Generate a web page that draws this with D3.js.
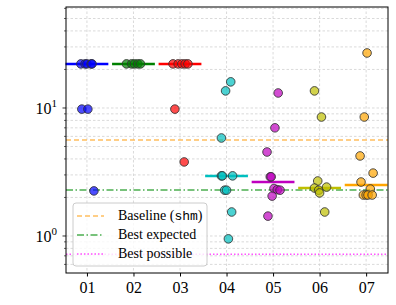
<html lang="en">
<head>
  <meta charset="utf-8"/>
  <script src="https://d3js.org/d3.v7.min.js"></script>
  <style>
  body { margin:0; background:white; }
  .grid line { stroke:#d0d0d0; stroke-width:0.8px; stroke-dasharray:2.5,2; }
  </style>
</head>
<body>
  <svg id="chart" width="396" height="305" style="font-family:'Liberation Serif','DejaVu Serif',serif"></svg>
  <script>
    // categories, colours and median per category
    const cats = ["01","02","03","04","05","06","07"];
    const colors = ["#0000ff","#008000","#ff0000","#00bfbf","#bf00bf","#bfbf00","#ffa500"];
    const medians = [22.1, 22.1, 22.1, 2.94, 2.64, 2.37, 2.50];

    // per-category values and x jitter (category units)
    const vals = [
      [22.1, 22.1, 22.1, 22.1, 22.1, 9.8, 9.8, 2.25],
      [22.1, 22.1, 22.1, 22.1, 22.1],
      [22.1, 22.1, 22.1, 22.1, 22.1, 9.8, 3.79],
      [16, 13.6, 5.83, 2.95, 2.95, 2.95, 2.28, 2.28, 1.54, 0.95],
      [13.1, 7.0, 4.53, 2.9, 2.9, 2.35, 2.3, 2.28, 2.05, 1.43],
      [13.6, 8.5, 2.69, 2.37, 2.28, 2.17, 2.41, 1.54],
      [26.9, 8.5, 4.22, 3.1, 2.64, 2.33, 2.09, 2.09, 2.09, 2.09]
    ];
    const jitter = [
      [-0.13, -0.04, 0, 0.09, 0.11, -0.11, 0.02, 0.15],
      [-0.15, -0.04, 0.02, 0.09, 0.15],
      [-0.15, -0.04, 0.04, 0.11, 0.17, -0.11, 0.09],
      [0.09, -0.02, -0.11, -0.11, -0.09, 0.13, -0.04, 0, 0.11, 0.04],
      [0.11, 0.04, -0.13, -0.06, -0.04, 0.02, 0.09, 0.15, -0.02, -0.11],
      [-0.11, 0.04, -0.04, -0.11, -0.02, 0, 0.15, 0.11],
      [0.02, -0.04, -0.13, 0.15, -0.11, 0.09, -0.06, 0, 0.04, 0.13]
    ];

    // reference lines
    const refNames = ["Baseline", "Best expected", "Best possible"];
    const refValues = [5.62, 2.29, 0.72];
    const refColors = ["#ffbf5f", "#4caf50", "#ff55ff"];
    const refDash = ["5,3", "7,2.5,1.5,2.5", "1.5,2"];

    const yMajor = [1, 10];
    const yMinor = [0.6,0.7,0.8,0.9,2,3,4,5,6,7,8,9,20,30,40,50,60];

    const svg = d3.select("#chart");
    const L = 66, R = 388, T = 7, B = 273;

    const x = d3.scaleLinear().domain([0.55, 7.47]).range([L, R]);
    const y = d3.scaleLog().domain([0.514, 61.5]).range([B, T]);

    // grid
    const grid = svg.append("g").attr("class", "grid");
    grid.selectAll("line.gy").data(yMajor.concat(yMinor)).join("line")
      .attr("x1", L).attr("x2", R).attr("y1", d => y(d)).attr("y2", d => y(d));
    grid.selectAll("line.gx").data(cats).join("line")
      .attr("x1", (d, i) => x(i + 1)).attr("x2", (d, i) => x(i + 1)).attr("y1", T).attr("y2", B);

    // reference lines
    refValues.forEach((v, i) => {
      svg.append("line").attr("x1", L).attr("x2", R).attr("y1", y(v)).attr("y2", y(v))
        .attr("stroke", refColors[i]).attr("stroke-width", 1.5).attr("stroke-dasharray", refDash[i]);
    });

    // median lines
    svg.selectAll("line.med").data(medians).join("line")
      .attr("x1", (d, i) => x(i + 1 - 0.46)).attr("x2", (d, i) => x(i + 1 + 0.46))
      .attr("y1", d => y(d)).attr("y2", d => y(d))
      .attr("stroke", (d, i) => colors[i]).attr("stroke-width", 2.5);

    // points
    const pts = [];
    vals.forEach((arr, c) => arr.forEach((v, k) => pts.push({c: c, v: v, j: jitter[c][k]})));
    svg.selectAll("circle.pt").data(pts).join("circle")
      .attr("cx", d => x(d.c + 1 + d.j)).attr("cy", d => y(d.v)).attr("r", 4.3)
      .attr("fill", d => colors[d.c]).attr("fill-opacity", 0.7)
      .attr("stroke", "#333").attr("stroke-opacity", 0.85).attr("stroke-width", 1);

    // frame
    svg.append("rect").attr("x", L).attr("y", T).attr("width", R - L).attr("height", B - T)
      .attr("fill", "none").attr("stroke", "#000").attr("stroke-width", 1);

    // axes
    const xAxis = svg.append("g").attr("transform", "translate(0," + B + ")")
      .call(d3.axisBottom(x).tickValues([1,2,3,4,5,6,7]).tickFormat((d) => cats[d - 1]).tickSize(3.5).tickPadding(5));
    xAxis.attr("font-family", null).attr("font-size", null);
    xAxis.select(".domain").remove();
    xAxis.selectAll("text").attr("font-size", 16);

    const yAxis = svg.append("g").attr("transform", "translate(" + L + ",0)");
    yAxis.selectAll("line.mn").data(yMinor).join("line")
      .attr("x1", -2).attr("x2", 0).attr("y1", d => y(d)).attr("y2", d => y(d))
      .attr("stroke", "#000").attr("stroke-width", 0.6);
    yAxis.selectAll("line.mj").data(yMajor).join("line")
      .attr("x1", -3.5).attr("x2", 0).attr("y1", d => y(d)).attr("y2", d => y(d))
      .attr("stroke", "#000").attr("stroke-width", 0.8);
    const yl = yAxis.selectAll("text").data(yMajor).join("text")
      .attr("x", -9).attr("y", d => y(d) + 6).attr("text-anchor", "end").attr("font-size", 16);
    yl.append("tspan").text("10");
    yl.append("tspan").attr("font-size", 11).attr("dy", -7).text(d => Math.round(Math.log10(d)));

    // legend
    const lg = svg.append("g").attr("transform", "translate(73,203)");
    lg.append("rect").attr("width", 134).attr("height", 63).attr("rx", 3)
      .attr("fill", "white").attr("fill-opacity", 0.8).attr("stroke", "#ccc");
    refNames.forEach((n, i) => {
      const yy = 13 + i * 19;
      lg.append("line").attr("x1", 4).attr("x2", 31).attr("y1", yy).attr("y2", yy)
        .attr("stroke", refColors[i]).attr("stroke-width", 1.5).attr("stroke-dasharray", refDash[i]);
      const t = lg.append("text").attr("x", 45).attr("y", yy + 4).attr("font-size", 14).text(n);
      if (i === 0) {
        t.append("tspan").text(" (");
        t.append("tspan").attr("font-family", "'Liberation Mono',monospace").attr("font-size", 13).text("shm");
        t.append("tspan").text(")");
      }
    });
  </script>
</body>
</html>
